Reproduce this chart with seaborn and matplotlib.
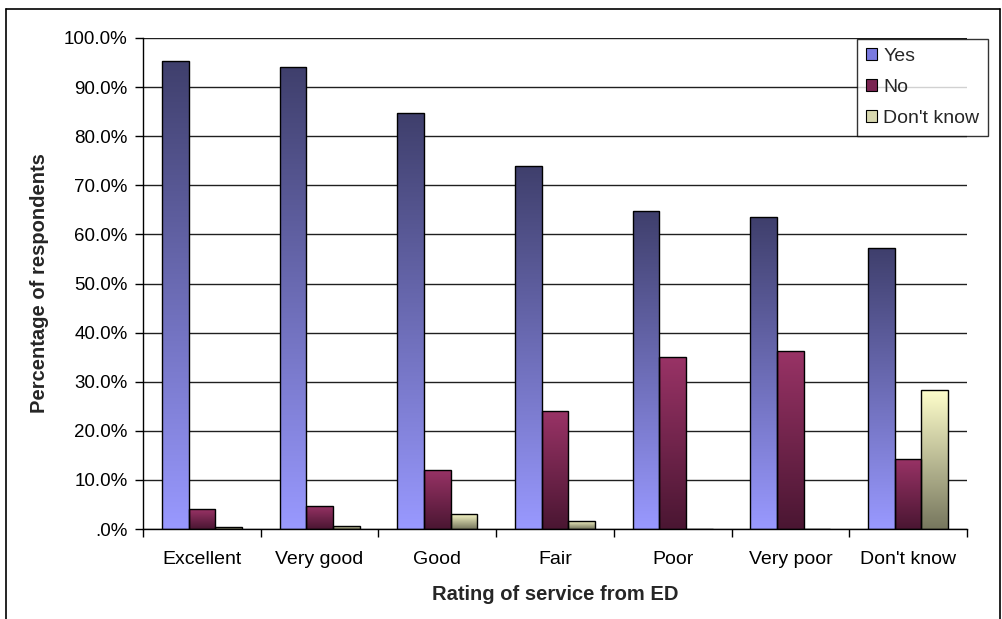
import numpy as np
import pandas as pd
import matplotlib
matplotlib.use("Agg")
import matplotlib.pyplot as plt
from matplotlib.colors import LinearSegmentedColormap
from matplotlib.patches import Patch
from matplotlib.ticker import FuncFormatter, FixedLocator
from matplotlib.lines import Line2D
import seaborn as sns

# Survey results: share of respondents by service rating
ratings = ["Excellent", "Very good", "Good", "Fair", "Poor", "Very poor", "Don't know"]
responses = ["Yes", "No", "Don't know"]
yes_pct = [95.4, 94.1, 84.7, 74.0, 64.8, 63.5, 57.2]
no_pct = [4.0, 4.7, 12.1, 24.0, 35.0, 36.3, 14.3]
dontknow_pct = [0.5, 0.7, 3.1, 1.7, 0.0, 0.0, 28.4]

df = pd.DataFrame({
    "rating": ratings * 3,
    "response": [r for r in responses for _ in ratings],
    "pct": yes_pct + no_pct + dontknow_pct,
})

# gradient colours per series: (top, bottom)
gradients = {
    "Yes": ("#3f3f6c", "#9999ff"),
    "No": ("#993366", "#4a1632"),
    "Don't know": ("#ffffcc", "#77775e"),
}
swatch = {"Yes": "#7a7ae0", "No": "#7a2452", "Don't know": "#d8d8b0"}

sns.set_theme(style="white")
plt.rcParams["font.family"] = ["Liberation Sans", "DejaVu Sans"]

fig = plt.figure(figsize=(10.03, 6.19), dpi=100)
W, H = 1003, 619
ax = fig.add_axes([143 / W, 1 - 529 / H, 824 / W, 491 / H])

sns.barplot(data=df, x="rating", y="pct", hue="response", order=ratings,
            hue_order=responses, width=0.68, ax=ax, legend=False,
            edgecolor="black", linewidth=1.0, saturation=1)

for container, resp in zip(ax.containers, responses):
    top, bottom = gradients[resp]
    cmap = LinearSegmentedColormap.from_list(resp, [bottom, top])
    grad = np.linspace(1, 0, 256).reshape(-1, 1)
    for bar in container:
        x, w, h = bar.get_x(), bar.get_width(), bar.get_height()
        bar.set_facecolor("none")
        bar.set_zorder(3)
        if h <= 0:
            continue
        im = ax.imshow(grad, cmap=cmap, vmin=0, vmax=1, aspect="auto",
                       extent=[x, x + w, 0, h], zorder=2.5, interpolation="bilinear")
        im.set_clip_path(bar)

ax.set_xlim(-0.5, len(ratings) - 0.5)
ax.set_ylim(0, 100)
ax.set_yticks(np.arange(0, 101, 10))
ax.yaxis.set_major_formatter(FuncFormatter(
    lambda v, p: ".0%" if v == 0 else f"{v:.1f}%"))
ax.grid(axis="y", color="#202020", linewidth=1.0)
ax.grid(axis="x", visible=False)
ax.set_axisbelow(True)

for s in ["top", "right"]:
    ax.spines[s].set_visible(False)
for s in ["left", "bottom"]:
    ax.spines[s].set_color("black")
    ax.spines[s].set_linewidth(1.0)

ax.xaxis.set_minor_locator(FixedLocator(np.arange(-0.5, len(ratings), 1.0)))
ax.tick_params(axis="x", which="major", length=0, pad=16, labelsize=14, colors="black")
ax.tick_params(axis="x", which="minor", length=6, width=1, color="black", direction="out", bottom=True)
ax.tick_params(axis="y", which="major", length=6, width=1, color="black", direction="out",
               left=True, pad=5, labelsize=13.5, labelcolor="black")

ax.set_xlabel("Rating of service from ED", fontsize=14.5, fontweight="bold", labelpad=12)
ax.set_ylabel("Percentage of respondents", fontsize=14.5, fontweight="bold", labelpad=11)

handles = [Patch(facecolor=swatch[r], edgecolor="black", linewidth=0.8, label=r)
           for r in responses]
leg = fig.legend(handles=handles, loc="upper left",
                 bbox_to_anchor=(857 / W, 1 - 39 / H), borderaxespad=0,
                 fontsize=14, frameon=True, fancybox=False, handlelength=0.6,
                 handleheight=0.6, handletextpad=0.3, labelspacing=0.72,
                 borderpad=0.45)
leg.get_frame().set_edgecolor("black")
leg.get_frame().set_linewidth(1.0)

# outer frame of the chart area
for xs, ys in [([6, 6], [9, H + 5]), ([6, 1000], [9, 9]), ([1000, 1000], [9, H + 5])]:
    fig.add_artist(Line2D([v / W for v in xs], [1 - v / H for v in ys],
                          color="black", linewidth=1.2, transform=fig.transFigure))

fig.savefig("out.png", dpi=100)
